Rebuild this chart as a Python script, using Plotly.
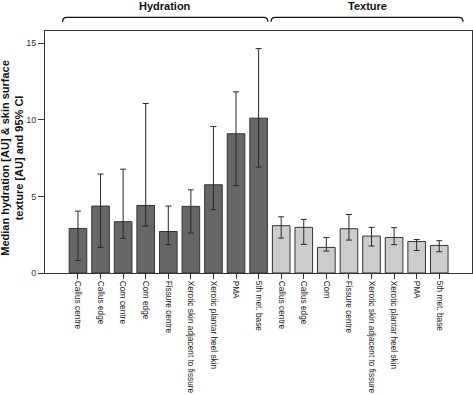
import plotly.graph_objects as go

hyd_labels = ["Callus centre", "Callus edge", "Corn centre", "Corn edge", "Fissure centre",
              "Xerotic skin adjacent to fissure", "Xerotic plantar heel skin", "PMA", "5th met. base"]
hyd_median = [2.91, 4.37, 3.35, 4.41, 2.71, 4.35, 5.76, 9.09, 10.11]
hyd_upper = [4.04, 6.46, 6.78, 11.07, 4.37, 5.43, 9.56, 11.83, 14.65]
hyd_lower = [0.82, 1.67, 2.26, 3.06, 1.85, 2.61, 4.13, 5.70, 6.91]

tex_labels = ["Callus centre", "Callus edge", "Corn", "Fissure centre",
              "Xerotic skin adjacent to fissure", "Xerotic plantar heel skin", "PMA", "5th met. base"]
tex_median = [3.09, 2.98, 1.67, 2.89, 2.41, 2.32, 2.06, 1.80]
tex_upper = [3.67, 3.50, 2.32, 3.82, 2.98, 2.96, 2.19, 2.11]
tex_lower = [2.28, 1.87, 1.43, 2.15, 1.76, 1.85, 1.47, 1.39]

group_names = ["Hydration", "Texture"]

nh = len(hyd_labels)
nt = len(tex_labels)
xh = list(range(nh))
xt = list(range(nh, nh + nt))

FONT = "Liberation Sans, Arial, sans-serif"
EDGE = "#333333"

fig = go.Figure()

def add_bars(xs, med, up, lo, color):
    fig.add_trace(go.Bar(
        x=xs, y=med, width=0.78,
        marker=dict(color=color, line=dict(color=EDGE, width=1)),
        error_y=dict(type="data", symmetric=False,
                     array=[u - m for u, m in zip(up, med)],
                     arrayminus=[m - l for m, l in zip(med, lo)],
                     color="#2a2a2a", thickness=1, width=3),
        showlegend=False, hoverinfo="skip"))

add_bars(xh, hyd_median, hyd_upper, hyd_lower, "#676767")
add_bars(xt, tex_median, tex_upper, tex_lower, "#cccccc")

fig.update_layout(
    width=473, height=395,
    margin=dict(l=45, r=1, t=31, b=122, autoexpand=False),
    paper_bgcolor="white", plot_bgcolor="white",
    font=dict(family=FONT, color="#222222"),
    bargap=0.22,
)
fig.update_xaxes(
    range=[-1.46, 17.45], tickmode="array", automargin=False,
    tickvals=xh + xt, ticktext=hyd_labels + tex_labels,
    tickangle=90, tickfont=dict(size=8.3, color="#222222"),
    ticks="outside", ticklen=5, tickcolor=EDGE,
    showline=True, linecolor=EDGE, linewidth=1, mirror=True,
    showgrid=False, zeroline=False,
)
fig.update_yaxes(
    range=[0, 15.8], tickvals=[0, 5, 10, 15], automargin=False,
    tickfont=dict(size=9, color="#333333"),
    ticks="outside", ticklen=6, tickcolor=EDGE,
    showline=True, linecolor=EDGE, linewidth=1, mirror=True,
    showgrid=False, zeroline=False,
)

# y-axis title
fig.add_annotation(
    text="<b>Median hydration [AU] & skin surface<br>texture [AU] and 95% CI</b>",
    xref="paper", yref="paper", x=-0.078, y=0.475, textangle=-90,
    xanchor="center", yanchor="middle", showarrow=False,
    font=dict(size=11, color="#111111", family=FONT),
)

# group brackets
groups = [(group_names[0], xh[0] - 0.68, xh[-1] + 0.41),
          (group_names[1], xt[0] - 0.45, xt[-1] + 1.05)]
yb, yc, d = 1.0565, 1.038, 0.18
for name, x0, x1 in groups:
    path = (f"M {x0},{yc} Q {x0},{yb} {x0 + d},{yb} L {x1 - d},{yb} "
            f"Q {x1},{yb} {x1},{yc}")
    fig.add_shape(type="path", path=path, xref="x", yref="paper",
                  line=dict(color="#111111", width=1.3))
    fig.add_annotation(text=f"<b>{name}</b>", xref="x", yref="paper",
                       x=(x0 + x1) / 2, y=1.131, showarrow=False,
                       xanchor="center", yanchor="top", borderpad=0,
                       font=dict(size=11, color="#111111", family=FONT))

fig.write_html("out.html", config={"displayModeBar": False},
               post_script="document.body.style.margin='0';document.body.style.overflow='hidden';")
